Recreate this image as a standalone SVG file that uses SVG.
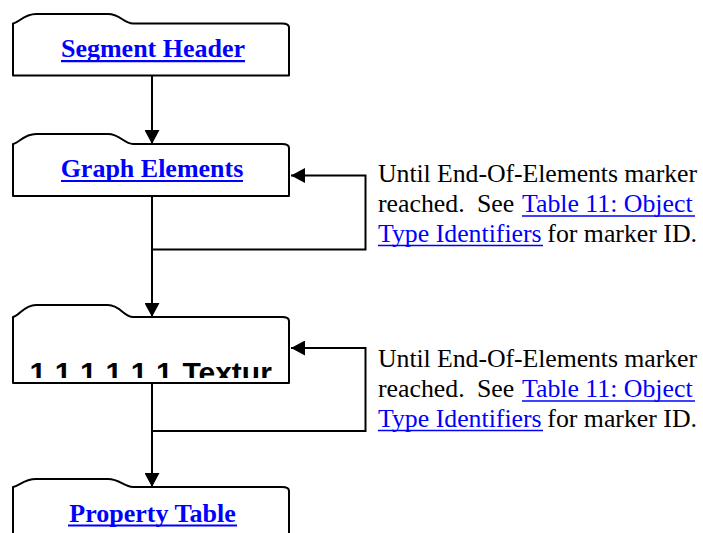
<svg xmlns="http://www.w3.org/2000/svg" width="703" height="533" viewBox="0 0 703 533">
  <style>
    .box { fill: #ffffff; stroke: #000000; stroke-width: 2; stroke-linejoin: round; }
    .conn { fill: none; stroke: #000000; stroke-width: 2; }
    .title { font-family: "Liberation Serif", "Times New Roman", serif; font-weight: bold; font-size: 26px; fill: #0000ff; text-anchor: middle; }
    .note { font-family: "Liberation Serif", "Times New Roman", serif; font-size: 25.8px; fill: #000000; }
    .end { text-anchor: end; }
    .link { fill: #0000ff; }
    .ul { stroke: #0000ff; stroke-width: 2.2; }
    .ul-thin { stroke: #0000ff; stroke-width: 1.5; }
    .num { font-family: "Liberation Sans", Arial, sans-serif; font-weight: bold; font-size: 30px; fill: #000000; }
  </style>
  <defs>
    <marker id="arrow" markerUnits="userSpaceOnUse" markerWidth="15" markerHeight="15" refX="14" refY="7.5" orient="auto">
      <path d="M0,0 L14,7.5 L0,15 Z" fill="#000000"/>
    </marker>
    <clipPath id="clip-texture">
      <rect x="14" y="318" width="274" height="60"/>
    </clipPath>
  </defs>

  <!-- connectors -->
  <g id="connectors">
    <line class="conn" x1="152" y1="75.5" x2="152" y2="144" marker-end="url(#arrow)"/>
    <line class="conn" x1="152" y1="196" x2="152" y2="317" marker-end="url(#arrow)"/>
    <polyline class="conn" points="152,249.5 365.5,249.5 365.5,175.5 291,175.5" marker-end="url(#arrow)"/>
    <line class="conn" x1="152" y1="383" x2="152" y2="487" marker-end="url(#arrow)"/>
    <polyline class="conn" points="152,431 365.5,431 365.5,348 291,348" marker-end="url(#arrow)"/>
  </g>

  <!-- Segment Header -->
  <g id="segment-header">
    <path class="box" d="M13,75.5 L13,23.5 C19,22.5 24,14 36,14 L108,14 C120,14 124,23.5 133,23.5 L282,23.5 C287,23.5 289,24.5 289,27.5 L289,75.5 Z"/>
    <text class="title" x="153" y="57">Segment Header</text>
    <line class="ul" x1="61" y1="61.2" x2="245" y2="61.2"/>
  </g>

  <!-- Graph Elements -->
  <g id="graph-elements">
    <path class="box" d="M13,196 L13,144 C19,143 24,134 36,134 L108,134 C120,134 124,144 133,144 L282,144 C287,144 289,145 289,148 L289,196 Z"/>
    <text class="title" x="152" y="177.3">Graph Elements</text>
    <line class="ul" x1="61" y1="181" x2="243" y2="181"/>
  </g>

  <!-- Texture entry (clipped label) -->
  <g id="texture">
    <path class="box" d="M13,383 L13,317 C19,316 24,305 36,305 L108,305 C120,305 124,317 133,317 L282,317 C287,317 289,318 289,321 L289,383 Z"/>
    <text class="num" clip-path="url(#clip-texture)" x="29.5 46 54.8 71 80.1 96 105.4 121 130.7 147 156 182.4" y="383">1 1 1 1 1 1Textur</text>
  </g>

  <!-- Property Table -->
  <g id="property-table">
    <path class="box" d="M13,540 L13,487 C19,486 24,479 36,479 L108,479 C120,479 124,487 133,487 L282,487 C287,487 289,488 289,491 L289,540 Z"/>
    <text class="title" x="152.5" y="521.7">Property Table</text>
    <line class="ul" x1="68" y1="525.5" x2="237" y2="525.5"/>
  </g>

  <!-- loop note for Graph Elements -->
  <g id="note-graph-elements">
    <text class="note" x="378" y="182" textLength="319" lengthAdjust="spacing">Until End-Of-Elements marker</text>
    <text class="note" y="212"><tspan x="378">reached.</tspan><tspan x="477">See</tspan><tspan class="link" x="522">Table 11: Object</tspan></text>
    <line class="ul-thin" x1="522" y1="216" x2="695" y2="216"/>
    <text class="note" y="241.5"><tspan class="link" x="378">Type Identifiers</tspan></text>
    <text class="note end" x="697" y="241.5">for marker ID.</text>
    <line class="ul-thin" x1="378" y1="245.5" x2="543" y2="245.5"/>
  </g>

  <!-- loop note for Texture entry -->
  <g id="note-texture">
    <text class="note" x="378" y="367" textLength="319" lengthAdjust="spacing">Until End-Of-Elements marker</text>
    <text class="note" y="397"><tspan x="378">reached.</tspan><tspan x="477">See</tspan><tspan class="link" x="522">Table 11: Object</tspan></text>
    <line class="ul-thin" x1="522" y1="401" x2="695" y2="401"/>
    <text class="note" y="426.5"><tspan class="link" x="378">Type Identifiers</tspan></text>
    <text class="note end" x="697" y="426.5">for marker ID.</text>
    <line class="ul-thin" x1="378" y1="430.5" x2="543" y2="430.5"/>
  </g>
</svg>
